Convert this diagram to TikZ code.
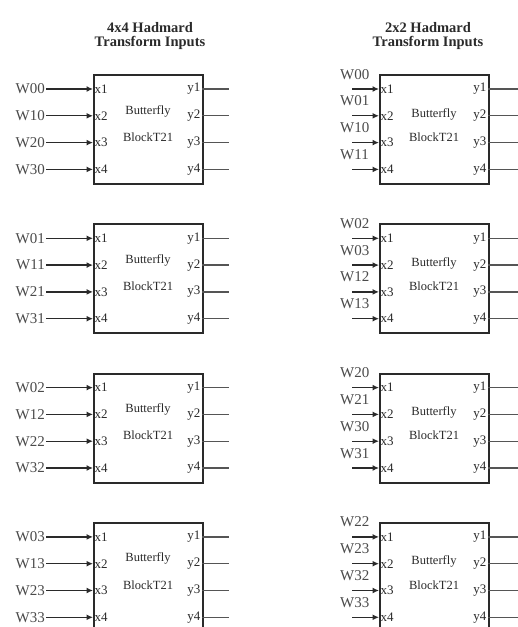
\documentclass[tikz,border=0pt]{standalone}
\usepackage{fontspec}
\setmainfont{Liberation Serif}
\usetikzlibrary{arrows.meta,positioning}
\definecolor{bf-ink}{HTML}{2A2A2A}
\definecolor{bf-text}{HTML}{4A4A4A}

\tikzset{
  bfbox/.style={draw=bf-ink, line width=2pt, minimum width=109pt, minimum height=109pt, anchor=north west, inner sep=0pt},
  wlabel/.style={font=\fontsize{15}{15}\selectfont, text=bf-text, inner sep=1pt},
  port/.style={font=\fontsize{13}{13}\selectfont, text=bf-ink, inner sep=1.5pt},
  bodytext/.style={font=\fontsize{12.5}{12.5}\selectfont, text=bf-ink, inner sep=0pt},
  inarrow/.style={-{Latex[length=6.5pt,width=6pt]}, bf-ink, line width=1.3pt},
  outwire/.style={bf-ink!80, line width=1.3pt},
  title/.style={font=\fontsize{14.5}{14}\selectfont\bfseries, text=bf-ink, align=center}
}

\begin{document}
\begin{tikzpicture}[x=1pt, y=-1pt]
    \useasboundingbox (0,0) rectangle (518,627);

    % Titles
    \node[title] (ttl4) at (150,36) {4x4 Hadmard\\Transform Inputs};
    \node[title] (ttl2) at (428,36) {2x2 Hadmard\\Transform Inputs};

    % Left column: 4x4 inputs
    \foreach \b in {1,...,4} {
        \pgfmathsetmacro\top{74+149.3*(\b-1)}
        \pgfmathtruncatemacro\col{\b-1}
        \node[bfbox] (L\b) at (93,\top) {};
        \node[bodytext] (L\b-name) at (148,\top+37) {Butterfly};
        \node[bodytext] (L\b-blk) at (148,\top+63) {BlockT21};
        \foreach \r in {1,...,4} {
            \pgfmathsetmacro\ry{\top+15+26.8*(\r-1)}
            \pgfmathtruncatemacro\row{\r-1}
            \coordinate (L\b-in\r) at (93,\ry);
            \coordinate (L\b-edge\r) at (202,\ry);
            \coordinate (L\b-out\r) at (229,\ry);
            \node[port, anchor=west] (L\b-x\r) at (L\b-in\r) {x\r};
            \node[port, anchor=east] (L\b-y\r) at (L\b-edge\r) {y\r};
            \node[wlabel, anchor=east] (wL\b\r) at (46,\ry) {W\row\col};
            \draw[inarrow] (wL\b\r) -- (L\b-in\r);
            \draw[outwire] (L\b-edge\r) -- (L\b-out\r);
        }
    }

    % Right column: 2x2 inputs
    \foreach \b/\names in {1/{00,01,10,11}, 2/{02,03,12,13}, 3/{20,21,30,31}, 4/{22,23,32,33}} {
        \pgfmathsetmacro\top{74+149.3*(\b-1)}
        \node[bfbox] (R\b) at (379,\top) {};
        \node[bodytext] (R\b-name) at (434,\top+40) {Butterfly};
        \node[bodytext] (R\b-blk) at (434,\top+63) {BlockT21};
        \foreach \nm [count=\r] in \names {
            \pgfmathsetmacro\ry{\top+15+26.8*(\r-1)}
            \coordinate (R\b-src\r) at (352,\ry);
            \coordinate (R\b-in\r) at (379,\ry);
            \coordinate (R\b-edge\r) at (488,\ry);
            \coordinate (R\b-out\r) at (518,\ry);
            \node[port, anchor=west] (R\b-x\r) at (R\b-in\r) {x\r};
            \node[port, anchor=east] (R\b-y\r) at (R\b-edge\r) {y\r};
            \node[wlabel, anchor=base west] (wR\b\r) at (339,\ry-10) {W\nm};
            \draw[inarrow] (R\b-src\r) -- (R\b-in\r);
            \draw[outwire] (R\b-edge\r) -- (R\b-out\r);
        }
    }
\end{tikzpicture}
\end{document}
